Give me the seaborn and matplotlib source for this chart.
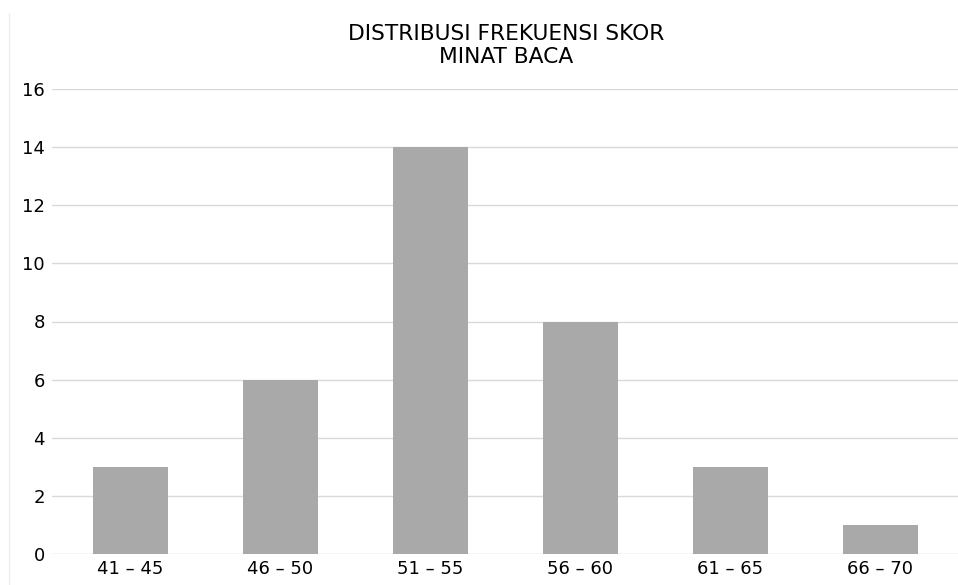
import matplotlib
matplotlib.use('Agg')
import matplotlib.pyplot as plt
import seaborn as sns
import pandas as pd
from matplotlib.lines import Line2D

# data
kelas = ['41 – 45', '46 – 50', '51 – 55', '56 – 60', '61 – 65', '66 – 70']
frekuensi = [3, 6, 14, 8, 3, 1]
y_ticks = [0, 2, 4, 6, 8, 10, 12, 14, 16]

df = pd.DataFrame({'Kelas': kelas, 'Frekuensi': frekuensi})

sns.set_style('white')
plt.rcParams['font.family'] = ['DejaVu Sans']

fig = plt.figure(figsize=(9.58, 5.85), dpi=100)
ax = fig.add_axes([52 / 958, 31 / 585, 906 / 958, 465 / 585])

sns.barplot(data=df, x='Kelas', y='Frekuensi', color='#A9A9A9',
            saturation=1, width=0.5, linewidth=0, ax=ax, zorder=3)

ax.set_ylim(0, 16)
ax.set_xlim(-0.52, 5.52)
ax.set_yticks(y_ticks)
ax.yaxis.grid(True, color='#D9D9D9', linewidth=1)
ax.axhline(0, color='#F0F0F0', linewidth=1, zorder=2)
for s in ax.spines.values():
    s.set_visible(False)
ax.tick_params(axis='both', length=0, labelsize=13, colors='black', pad=5)
ax.tick_params(axis='x', pad=4)
ax.set_xlabel('')
ax.set_ylabel('')
ax.set_axisbelow(True)

fig.text(0.528, 1 - 45.5 / 585, 'DISTRIBUSI FREKUENSI SKOR\nMINAT BACA',
         ha='center', va='center', fontsize=15.7, linespacing=1.2, color='black')

# faint frame edge on the left
fig.add_artist(Line2D([9 / 958, 9 / 958], [0, 1 - 13 / 585],
                      transform=fig.transFigure, color='#EEEEEE', linewidth=1))

fig.savefig('out.png', dpi=100)
